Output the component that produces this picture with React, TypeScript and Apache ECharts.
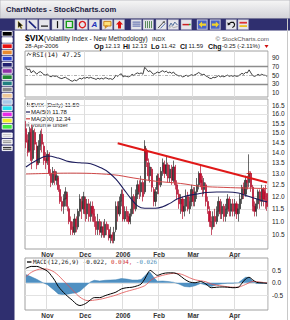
import React, { useEffect, useRef } from "react";
import * as echarts from "echarts";

// ---------- categories ----------
const firstDay = "2005-10-14";
const lastDay = "2006-04-28";
const marketHolidays = ["2005-11-24", "2005-12-26", "2006-01-02", "2006-01-16", "2006-02-20", "2006-04-14"];
const monthNames: Record<string, string> = { "10": "Oct", "11": "Nov", "12": "Dec", "01": "2006", "02": "Feb", "03": "Mar", "04": "Apr" };

function tradingDays(start: string, end: string): string[] {
  const out: string[] = [];
  const d = new Date(start + "T00:00:00Z");
  const e = new Date(end + "T00:00:00Z");
  while (d <= e) {
    const wd = d.getUTCDay();
    const s = d.toISOString().slice(0, 10);
    if (wd !== 0 && wd !== 6 && marketHolidays.indexOf(s) < 0) out.push(s);
    d.setUTCDate(d.getUTCDate() + 1);
  }
  return out;
}
const dates = tradingDays(firstDay, lastDay);
const monthStarts = dates.map((d, i) => (i > 0 && d.slice(5, 7) !== dates[i - 1].slice(5, 7) ? i : -1)).filter((i) => i >= 0);

// ---------- price candles: [open, close, low, high] ----------
const ohlc: number[][] = [
  // Oct
  [15.2, 14.5, 14.2, 15.6], [14.6, 14.0, 13.8, 14.9], [14.1, 15.0, 14.0, 15.3], [15.2, 13.6, 13.2, 15.4], [13.7, 15.1, 13.6, 15.3],
  [15.0, 14.4, 14.1, 15.2], [14.3, 13.4, 13.2, 14.5], [13.5, 14.3, 13.4, 14.6], [14.3, 14.9, 14.1, 15.1], [14.9, 14.4, 14.0, 15.2],
  [14.3, 13.6, 13.4, 14.5], [13.7, 13.5, 13.2, 14.0],
  // Nov
  [13.6, 13.9, 13.4, 14.1], [13.9, 13.0, 12.9, 14.0], [13.0, 12.6, 12.4, 13.2], [12.6, 13.1, 12.5, 13.3], [13.1, 12.7, 12.5, 13.2],
  [12.7, 12.9, 12.5, 13.1], [12.8, 12.3, 12.2, 12.9], [12.3, 11.8, 11.7, 12.5], [11.8, 11.6, 11.4, 12.0], [11.6, 11.9, 11.3, 12.1],
  [11.9, 12.2, 11.6, 12.4], [12.1, 11.6, 11.4, 12.2], [11.5, 11.0, 10.9, 11.6], [11.0, 10.7, 10.5, 11.2], [10.8, 10.6, 10.5, 11.0],
  [10.6, 11.1, 10.5, 11.3], [11.1, 10.8, 10.6, 11.2], [10.8, 11.4, 10.7, 11.5], [11.4, 11.9, 11.2, 12.1], [11.8, 11.5, 11.1, 12.0],
  [11.5, 12.0, 11.3, 12.2],
  // Dec
  [11.9, 11.3, 11.0, 12.0], [11.3, 11.7, 11.1, 11.9], [11.7, 11.2, 11.0, 11.9], [11.2, 11.6, 11.0, 11.8], [11.6, 11.3, 11.0, 11.8],
  [11.3, 11.0, 10.8, 11.5], [11.0, 10.7, 10.5, 11.2], [10.7, 11.0, 10.5, 11.3], [11.0, 10.6, 10.5, 11.1], [10.6, 10.8, 10.4, 11.0],
  [10.8, 10.5, 10.4, 11.0], [10.5, 10.9, 10.4, 11.1], [10.9, 10.7, 10.5, 11.0], [10.7, 10.4, 10.3, 10.9], [10.4, 10.5, 10.2, 10.8],
  [10.5, 10.3, 10.2, 10.6], [10.3, 10.6, 10.2, 10.8], [10.7, 11.6, 10.6, 11.8], [11.6, 11.3, 11.0, 11.8], [11.3, 11.8, 11.2, 12.0],
  [11.8, 12.1, 11.6, 12.3],
  // Jan
  [12.1, 11.1, 11.0, 12.3], [11.1, 11.4, 11.0, 11.6], [11.4, 11.2, 11.0, 11.6], [11.2, 11.0, 10.9, 11.4], [11.0, 11.3, 10.9, 11.5],
  [11.3, 12.0, 11.2, 12.4], [12.0, 11.5, 11.3, 12.1], [11.5, 12.1, 11.4, 12.3], [12.1, 12.5, 11.9, 12.7], [12.5, 12.2, 11.9, 12.7],
  [12.2, 12.6, 12.0, 12.9], [12.6, 12.0, 11.8, 12.7], [12.2, 14.3, 12.1, 14.6], [14.1, 13.6, 13.3, 14.2], [13.5, 12.9, 12.7, 13.7],
  [12.9, 13.3, 12.6, 13.5], [13.2, 12.4, 12.2, 13.3], [12.3, 11.8, 11.6, 12.4], [11.8, 12.2, 11.6, 12.4], [12.3, 12.9, 12.1, 13.0],
  // Feb
  [12.8, 12.5, 12.1, 13.0], [12.5, 13.1, 12.4, 13.3], [13.1, 13.5, 12.9, 13.7], [13.4, 13.0, 12.8, 13.6], [13.0, 13.4, 12.9, 13.8],
  [13.4, 12.8, 12.6, 13.5], [12.8, 13.2, 12.6, 13.4], [13.2, 12.7, 12.5, 13.4], [12.7, 13.3, 12.6, 13.6], [13.3, 12.5, 12.3, 13.4],
  [12.5, 12.1, 11.9, 12.7], [12.1, 11.7, 11.5, 12.3], [11.7, 11.9, 11.3, 12.1], [11.9, 11.4, 11.1, 12.0], [11.4, 11.6, 11.2, 11.9],
  [11.6, 12.0, 11.4, 12.3], [12.0, 11.5, 11.4, 12.2], [11.5, 11.8, 11.3, 12.0], [11.8, 12.3, 11.6, 12.5],
  // Mar
  [12.2, 11.8, 11.6, 12.4], [11.8, 12.2, 11.6, 12.4], [12.2, 12.5, 11.9, 12.8], [12.5, 13.0, 12.3, 13.1], [13.0, 12.6, 12.4, 13.4],
  [12.7, 12.3, 12.0, 12.9], [12.3, 12.6, 12.1, 12.8], [12.5, 11.8, 11.6, 12.6], [11.8, 11.5, 11.3, 12.0], [11.4, 11.0, 10.8, 11.6],
  [11.0, 10.8, 10.5, 11.2], [10.8, 11.2, 10.7, 11.4], [11.2, 11.0, 10.8, 11.5], [11.0, 11.4, 10.9, 11.6], [11.4, 11.8, 11.2, 12.0],
  [11.8, 11.3, 11.1, 11.9], [11.3, 11.6, 11.1, 11.8], [11.6, 11.2, 11.0, 11.7], [11.2, 11.5, 11.0, 11.7], [11.5, 11.9, 11.3, 12.1],
  [11.9, 11.4, 11.2, 12.0], [11.4, 11.7, 11.2, 11.9], [11.7, 11.4, 11.2, 11.9],
  // Apr
  [11.4, 11.7, 11.2, 11.9], [11.7, 11.3, 11.1, 11.8], [11.3, 11.5, 11.0, 11.7], [11.5, 11.9, 11.3, 12.1], [11.9, 12.4, 11.7, 12.5],
  [12.4, 12.1, 11.9, 12.6], [12.1, 12.7, 12.0, 12.9], [12.7, 12.6, 12.3, 12.9], [12.6, 13.0, 12.4, 13.9], [13.0, 12.4, 12.2, 13.1],
  [12.4, 11.6, 11.4, 12.5], [11.6, 11.4, 11.2, 11.8], [11.4, 11.7, 11.2, 11.9], [11.7, 12.2, 11.5, 12.3], [12.2, 11.8, 11.5, 12.3],
  [11.8, 12.3, 11.6, 12.5], [12.3, 11.9, 11.6, 12.4], [12.2, 11.84, 11.5, 12.5], [12.13, 11.59, 11.42, 12.13],
];

// moving averages as [day index, value]
const ma50Points: number[][] = [
  [0, 13.3], [6, 13.62], [12, 13.82], [18, 13.72], [24, 13.55], [30, 13.5], [36, 13.45], [42, 13.25], [46, 13.05],
  [50, 12.75], [54, 12.35], [58, 11.95], [62, 11.62], [66, 11.52], [72, 11.52], [76, 11.58], [80, 11.72], [84, 11.9],
  [88, 12.0], [92, 12.07], [96, 12.12], [100, 12.17], [106, 12.19], [112, 12.19], [118, 12.15], [122, 12.05],
  [126, 11.95], [130, 11.86], [134, 11.78],
];
const ma200Points: number[][] = [
  [0, 12.98], [25, 13.02], [48, 12.95], [60, 12.8], [72, 12.66], [86, 12.56], [97, 12.44], [110, 12.39], [123, 12.36], [134, 12.34],
];
const trendLine: number[][] = [[51, 14.45], [134, 12.6]];
const trendHandles: number[][] = [[66, 14.1], [124, 13.0]];

// RSI(14), one per day
const rsi: number[] = [
  68, 62, 64, 55, 60, 57, 52, 56, 58, 55, 51, 50,
  52, 48, 46, 49, 47, 48, 45, 43, 42, 44, 45, 42, 40, 37, 36, 39, 37, 40, 43, 41, 44,
  43, 45, 43, 45, 43, 42, 40, 43, 41, 43, 41, 44, 43, 41, 42, 40, 43, 50, 47, 51, 53,
  46, 48, 47, 46, 48, 52, 49, 53, 55, 53, 55, 52, 68, 63, 58, 60, 55, 52, 54, 57,
  55, 58, 60, 57, 59, 55, 57, 54, 57, 52, 50, 48, 49, 46, 47, 50, 47, 49, 51,
  49, 51, 53, 56, 53, 51, 52, 48, 46, 43, 42, 45, 44, 46, 49, 46, 48, 46, 48, 50, 47, 49, 47,
  49, 47, 48, 51, 54, 52, 56, 55, 62, 55, 49, 47, 49, 52, 49, 52, 50, 49.5, 47.25,
];

// MACD(12,26,9) as [day index, value]
const macdLine: number[][] = [
  [0, 0.58], [3, 0.66], [6, 0.66], [9, 0.58], [12, 0.47], [14, 0.3], [16, 0.1], [18, -0.15], [20, -0.32], [22, -0.47],
  [24, -0.6], [26, -0.72], [28, -0.86], [30, -0.92], [32, -0.88], [34, -0.8], [36, -0.68], [38, -0.6], [41, -0.6],
  [44, -0.52], [47, -0.45], [50, -0.38], [53, -0.25], [56, -0.2], [59, -0.18], [62, -0.12], [64, -0.05], [66, 0.15],
  [68, 0.42], [69, 0.5], [71, 0.4], [73, 0.3], [76, 0.37], [79, 0.4], [82, 0.4], [85, 0.32], [88, 0.15], [91, 0.03],
  [94, 0.0], [97, 0.05], [100, -0.05], [103, -0.2], [106, -0.18], [109, -0.17], [112, -0.18], [115, -0.2], [118, -0.18],
  [120, -0.02], [122, 0.15], [124, 0.22], [126, 0.12], [128, 0.02], [130, 0.0], [132, -0.01], [134, -0.022],
];
const signalLine: number[][] = [
  [0, 0.25], [3, 0.42], [6, 0.52], [9, 0.56], [12, 0.55], [14, 0.5], [16, 0.42], [18, 0.3], [20, 0.15], [22, 0.0],
  [24, -0.15], [26, -0.3], [28, -0.45], [30, -0.58], [32, -0.67], [34, -0.72], [36, -0.72], [38, -0.7], [41, -0.67],
  [44, -0.62], [47, -0.56], [50, -0.5], [53, -0.42], [56, -0.35], [59, -0.29], [62, -0.23], [64, -0.18], [66, -0.12],
  [68, 0.0], [69, 0.08], [71, 0.18], [73, 0.24], [76, 0.3], [79, 0.35], [82, 0.38], [85, 0.37], [88, 0.3], [91, 0.2],
  [94, 0.12], [97, 0.08], [100, 0.04], [103, -0.05], [106, -0.1], [109, -0.13], [112, -0.16], [115, -0.18], [118, -0.18],
  [120, -0.13], [122, -0.07], [124, 0.0], [126, 0.05], [128, 0.05], [130, 0.03], [132, 0.01], [134, 0.004],
];
const macdHist: number[][] = [
  [0, 0.33], [3, 0.24], [6, 0.14], [9, 0.02], [12, -0.08], [14, -0.2], [16, -0.32], [18, -0.45], [20, -0.47], [22, -0.47],
  [24, -0.45], [26, -0.42], [28, -0.41], [30, -0.34], [32, -0.21], [34, -0.08], [36, 0.04], [38, 0.1], [41, 0.07],
  [44, 0.1], [47, 0.11], [50, 0.12], [53, 0.17], [56, 0.15], [59, 0.11], [62, 0.11], [64, 0.13], [66, 0.27],
  [68, 0.42], [69, 0.42], [71, 0.22], [73, 0.06], [76, 0.07], [79, 0.05], [82, 0.02], [85, -0.05], [88, -0.15], [91, -0.17],
  [94, -0.12], [97, -0.03], [100, -0.09], [103, -0.15], [106, -0.08], [109, -0.04], [112, -0.02], [115, -0.02], [118, 0.0],
  [120, 0.11], [122, 0.22], [124, 0.22], [126, 0.07], [128, -0.03], [130, -0.03], [132, -0.02], [134, -0.026],
];

// ticks
const priceTicks = [10.5, 11, 11.5, 12, 12.5, 13, 13.5, 14, 14.5, 15, 15.5, 16, 16.5];
const rsiTicks = [10, 30, 50, 70, 90];
const macdTicks = [-0.5, 0, 0.5];

// header texts
const ticker = "$VIX";
const tickerName = "(Volatility Index - New Methodology)";
const exchange = "INDX";
const quoteDate = "28-Apr-2006";
const quote = { Op: "12.13", Hi: "12.13", Lo: "11.42", Cl: "11.59" };
const change = "-0.25 (-2.11%)";
const legendTexts = ["$VIX (Daily) 11.59", "MA(50) 11.78", "MA(200) 12.34", "Volume undef"];
const rsiLabel = "RSI(14) 47.25";
const macdLabel = ["MACD(12,26,9) -0.022,", " 0.004,", " -0.026"];

const FONT = "'Liberation Sans', Arial, sans-serif";
const MONO = "'DejaVu Sans Mono', monospace";
const NAVY = "#2f2f6f";

function txt(x: number, y: number, text: string, st: any = {}) {
  return {
    type: "text", x, y, silent: true,
    style: { text, fontSize: 6, fontFamily: FONT, fill: "#222", verticalAlign: "middle", align: "left", ...st },
  };
}

function buttonIcon(k: number): any[] {
  switch (k) {
    case 0: return [{ type: "polygon", shape: { points: [[3, 1.5], [3, 8.5], [4.6, 7], [6, 9.2], [7.2, 8.6], [5.8, 6.4], [8, 6.2]] }, style: { fill: "#111", stroke: "#e8d040", lineWidth: 0.4 } }];
    case 1: return [{ type: "line", shape: { x1: 1.8, y1: 1.5, x2: 9, y2: 8.5 }, style: { stroke: "#1a237e", lineWidth: 1.6 } }];
    case 2: return [{ type: "line", shape: { x1: 2, y1: 6.5, x2: 9, y2: 6.5 }, style: { stroke: "#111", lineWidth: 1.2 } }];
    case 3: return [{ type: "line", shape: { x1: 5.5, y1: 1.5, x2: 5.5, y2: 8.5 }, style: { stroke: "#111", lineWidth: 1.2 } }];
    case 4: return [{ type: "rect", shape: { x: 2.3, y: 1.8, width: 6.2, height: 6.2 }, style: { fill: "none", stroke: "#159a15", lineWidth: 1.4 } }];
    case 5: return [{ type: "circle", shape: { cx: 5.4, cy: 5, r: 3.1 }, style: { fill: "none", stroke: "#dd2020", lineWidth: 1.3 } }];
    case 6: return [{ type: "text", x: 5.3, y: 5.2, style: { text: "A", fontSize: 8, fontWeight: "bold", fontStyle: "italic", fontFamily: FONT, fill: "#2233bb", align: "center", verticalAlign: "middle" } }];
    case 7: return [
      { type: "rect", shape: { x: 1.8, y: 1.8, width: 7.2, height: 4.6 }, style: { fill: "#ffe27a", stroke: "#c07000", lineWidth: 0.8 } },
      { type: "polygon", shape: { points: [[3.5, 6.4], [3.2, 8.8], [5.5, 6.4]] }, style: { fill: "#ffe27a", stroke: "#c07000", lineWidth: 0.8 } }];
    case 8: return [{ type: "polygon", shape: { points: [[5.5, 1.2], [9, 4.8], [7, 4.8], [7, 8.8], [4, 8.8], [4, 4.8], [2, 4.8]] }, style: { fill: "#e01010" } }];
    case 9: return [2.5, 4.5, 6.5].map((y) => ({ type: "line", shape: { x1: 1.5, y1: y, x2: 9.5, y2: y }, style: { stroke: "#5060a8", lineWidth: 1 } }));
    case 10: return [2.5, 4.5, 6.5, 8.5].map((x) => ({ type: "line", shape: { x1: x, y1: 1.5, x2: x, y2: 8.5 }, style: { stroke: "#5a8a5a", lineWidth: 1 } }));
    case 11: return [
      { type: "line", shape: { x1: 2, y1: 8.5, x2: 8, y2: 2 }, style: { stroke: "#444", lineWidth: 0.9 } },
      { type: "line", shape: { x1: 4.5, y1: 8.8, x2: 9.3, y2: 3.8 }, style: { stroke: "#4060b0", lineWidth: 0.9 } },
      { type: "polygon", shape: { points: [[8.6, 1.4], [8.8, 4], [6.4, 2.4]] }, style: { fill: "#444" } }];
    case 12: return [
      { type: "polyline", shape: { points: [[1.2, 7], [3, 3.5], [4.8, 6], [6.8, 2.5], [9.5, 5.5]] }, style: { stroke: "#4d6c99", lineWidth: 1, fill: "none" } },
      { type: "polyline", shape: { points: [[1.2, 8.5], [3.5, 6.5], [5.5, 8], [9.5, 7]] }, style: { stroke: "#999", lineWidth: 0.8, fill: "none" } }];
    case 13: return [
      { type: "line", shape: { x1: 1.5, y1: 5, x2: 8, y2: 5 }, style: { stroke: "#cc2222", lineWidth: 1.5 } },
      { type: "line", shape: { x1: 8, y1: 5, x2: 9.6, y2: 5 }, style: { stroke: "#22aa22", lineWidth: 1.5 } }];
    case 14: return [
      { type: "rect", shape: { x: 0.8, y: 0.8, width: 8.9, height: 8.4 }, style: { fill: "#4a64c8" } },
      { type: "polygon", shape: { points: [[1.8, 5], [5, 1.8], [5, 3.8], [9, 3.8], [9, 6.2], [5, 6.2], [5, 8.2]] }, style: { fill: "#f2d22a" } }];
    case 15: return [
      { type: "rect", shape: { x: 0.8, y: 0.8, width: 8.9, height: 8.4 }, style: { fill: "#4a64c8" } },
      { type: "polygon", shape: { points: [[9, 5], [5.8, 1.8], [5.8, 3.8], [1.8, 3.8], [1.8, 6.2], [5.8, 6.2], [5.8, 8.2]] }, style: { fill: "#f2d22a" } }];
    case 16: return [
      { type: "polyline", shape: { points: [[3, 4.2], [5, 2.6], [7.4, 2.8], [8.6, 4.6], [8.2, 6.6], [6.4, 8]] }, style: { stroke: "#111", lineWidth: 1.1, fill: "none" } },
      { type: "polygon", shape: { points: [[1.4, 2.6], [1.8, 6], [4.6, 4.6]] }, style: { fill: "#111" } }];
    default: return [
      { type: "rect", shape: { x: 1.5, y: 2.2, width: 7.5, height: 1.8 }, style: { fill: "#dd3333" } },
      { type: "rect", shape: { x: 1.5, y: 5.6, width: 7.5, height: 1.8 }, style: { fill: "#e8c020" } }];
  }
}

const toolbarXs = [15, 27, 39, 52, 64, 77, 89, 102, 114, 131, 143, 156, 168, 181, 197, 210, 226, 238];
const swatchColors = ["#000000", "#ffffff", "#e81010", "#e88a30", "#2840d0", "#202070", "#9030a8", "#208a30", "#208080",
  "#8a8a8a", "#f0c898", "#a8c8e8", "#28e0f0", "#e828e8", "#f0f028", "#40e840"];

function buildGraphics(): any[] {
  const els: any[] = [];
  els.push({ type: "rect", z: -10, silent: true, shape: { x: 0, y: 0, width: 290, height: 320 }, style: { fill: "#ffffff" } });
  // title bar
  els.push({ type: "rect", silent: true, shape: { x: 0, y: 0, width: 290, height: 18.5 },
    style: { fill: { type: "linear", x: 0, y: 0, x2: 0, y2: 1, colorStops: [{ offset: 0, color: "#f6f6f6" }, { offset: 1, color: "#d2d2d8" }] }, stroke: "#b0b0b8", lineWidth: 0.8 } });
  els.push(txt(6, 9, "ChartNotes - StockCharts.com", { fontSize: 7.6, fontWeight: "bold", fill: "#1c1c44" }));
  // toolbar
  els.push({ type: "rect", silent: true, shape: { x: 0, y: 18.5, width: 290, height: 12 }, style: { fill: NAVY } });
  toolbarXs.forEach((bx, k) => {
    els.push({ type: "group", x: bx, y: 19.6, silent: true, children: [
      { type: "rect", shape: { x: 0, y: 0, width: 10.5, height: 10 }, style: { fill: "#e6e6ea", stroke: "#9a9ab8", lineWidth: 0.5 } },
      ...buttonIcon(k),
    ] });
  });
  // left strip
  els.push({ type: "rect", silent: true, shape: { x: 0, y: 30.5, width: 14.5, height: 290 }, style: { fill: NAVY } });
  swatchColors.forEach((c, k) => {
    els.push({ type: "rect", silent: true, shape: { x: 2.2, y: 31.5 + k * 6.2, width: 10, height: 4.6 }, style: { fill: c, stroke: "#ffffff", lineWidth: 0.9 } });
  });
  [{ c: "#ffffff", y: 133 }, { c: "#777777", y: 139.5 }, { c: "#000000", y: 146 }].forEach((s) => {
    els.push({ type: "rect", silent: true, shape: { x: 2.2, y: s.y, width: 10, height: 4.6 }, style: { fill: "#ffffff", stroke: "#ffffff", lineWidth: 0.9 } });
    els.push({ type: "line", silent: true, shape: { x1: 3, y1: s.y + 1.4, x2: 11.4, y2: s.y + 1.4 }, style: { stroke: s.c === "#ffffff" ? "#bbbbbb" : s.c, lineWidth: 0.9 } });
    els.push({ type: "line", silent: true, shape: { x1: 3, y1: s.y + 3.2, x2: 11.4, y2: s.y + 3.2 }, style: { stroke: s.c === "#ffffff" ? "#bbbbbb" : s.c, lineWidth: 0.9 } });
  });
  els.push({ type: "line", silent: true, shape: { x1: 287.5, y1: 18.5, x2: 287.5, y2: 320 }, style: { stroke: "#c8c8c8", lineWidth: 1 } });

  // header
  els.push(txt(25, 38.2, ticker, { fontSize: 8.6, fontWeight: "bold", fill: "#000" }));
  els.push(txt(44, 38.6, tickerName, { fontSize: 6.5, fill: "#222" }));
  els.push(txt(152, 38.8, exchange, { fontSize: 5.5, fill: "#222" }));
  els.push(txt(269, 38.6, "\u00a9 StockCharts.com", { fontSize: 6.2, fill: "#555", align: "right" }));
  els.push(txt(25, 46.2, quoteDate, { fontSize: 6, fill: "#222" }));
  const qx: Record<string, number[]> = { Op: [94, 105], Hi: [123, 132], Lo: [151, 161], Cl: [180, 188.5] };
  Object.keys(quote).forEach((k) => {
    els.push(txt(qx[k][0], 46.2, k, { fontSize: 7, fontWeight: "bold", fill: "#111" }));
    els.push(txt(qx[k][1], 46.4, (quote as any)[k], { fontSize: 6, fill: "#222" }));
  });
  els.push(txt(208, 46.2, "Chg", { fontSize: 7, fontWeight: "bold", fill: "#111" }));
  els.push(txt(222, 46.4, change, { fontSize: 6, fill: "#222" }));
  els.push({ type: "polygon", silent: true, shape: { points: [[264.5, 45], [268.5, 45], [266.5, 48]] }, style: { fill: "#d01010" } });

  // RSI label
  els.push({ type: "polyline", silent: true, shape: { points: [[27, 56], [28.5, 52.8], [30, 55.2], [31.2, 53.5]] }, style: { stroke: "#333", lineWidth: 0.7, fill: "none" } });
  els.push(txt(32.5, 54.5, rsiLabel, { fontSize: 6.2, fontFamily: MONO, fill: "#111" }));

  // main legend
  els.push({ type: "rect", silent: true, shape: { x: 27, y: 102.5, width: 1, height: 4 }, style: { fill: "#444" } });
  els.push({ type: "rect", silent: true, shape: { x: 28.6, y: 103.5, width: 1, height: 3 }, style: { fill: "#444" } });
  els.push(txt(31, 105, legendTexts[0], { fill: "#111" }));
  els.push({ type: "line", silent: true, shape: { x1: 26, y1: 112, x2: 30, y2: 112 }, style: { stroke: "#1c1c5c", lineWidth: 1.2 } });
  els.push(txt(31, 112, legendTexts[1], { fill: "#111" }));
  els.push({ type: "line", silent: true, shape: { x1: 26, y1: 118.8, x2: 30, y2: 118.8 }, style: { stroke: "#d04040", lineWidth: 1.2 } });
  els.push(txt(31, 118.8, legendTexts[2], { fill: "#111" }));
  els.push({ type: "rect", silent: true, shape: { x: 26.5, y: 123.5, width: 1, height: 3 }, style: { fill: "#777" } });
  els.push({ type: "rect", silent: true, shape: { x: 28.2, y: 122.5, width: 1, height: 4 }, style: { fill: "#777" } });
  els.push(txt(31, 125.2, legendTexts[3], { fill: "#333" }));

  // MACD label
  els.push({ type: "line", silent: true, shape: { x1: 27, y1: 262, x2: 31.5, y2: 262 }, style: { stroke: "#000", lineWidth: 1.3 } });
  els.push({
    type: "text", x: 33, y: 262, silent: true,
    style: {
      text: "{a|" + macdLabel[0] + "}{b|" + macdLabel[1] + "}{c|" + macdLabel[2] + "}",
      fontSize: 5.9, fontFamily: MONO, verticalAlign: "middle",
      rich: { a: { fill: "#111", fontSize: 5.9, fontFamily: MONO }, b: { fill: "#d03030", fontSize: 5.9, fontFamily: MONO }, c: { fill: "#5090b8", fontSize: 5.9, fontFamily: MONO } },
    },
  });
  return els;
}

function buildOption(): any {
  const isMonthStart = (i: number) => monthStarts.indexOf(i) >= 0;
  const gridBase = { left: 25, width: 243, show: true, borderColor: "#a0a0a0", borderWidth: 1, backgroundColor: "#ffffff" };
  const xAxisFor = (gridIndex: number, showLabel: boolean) => ({
    type: "category", gridIndex, data: dates, boundaryGap: true,
    axisLine: { show: false }, axisTick: { show: false },
    axisLabel: {
      show: showLabel, interval: (i: number) => isMonthStart(i),
      formatter: (v: string) => monthNames[v.slice(5, 7)] || "",
      fontSize: 6.5, fontWeight: "bold", fontFamily: FONT, color: "#333", margin: 1.5,
    },
    splitLine: { show: true, interval: (i: number) => isMonthStart(i), lineStyle: { color: "#dedede", width: 1 } },
  });
  const yLabel = { fontSize: 6.5, fontFamily: FONT, color: "#222", margin: 4 };
  return {
    animation: false,
    backgroundColor: "#ffffff",
    graphic: { elements: buildGraphics() },
    grid: [
      { ...gridBase, top: 51, height: 46 },
      { ...gridBase, top: 99, height: 150 },
      { ...gridBase, top: 258, height: 52 },
    ],
    xAxis: [xAxisFor(0, false), xAxisFor(1, true), xAxisFor(2, true)],
    yAxis: [
      { gridIndex: 0, type: "value", min: 0, max: 105, position: "right",
        axisLine: { show: false }, axisTick: { show: false, customValues: rsiTicks },
        axisLabel: { ...yLabel, customValues: rsiTicks }, splitLine: { show: false } },
      { gridIndex: 1, type: "log", logBase: 10, min: 10, max: 16.85, position: "right",
        axisLine: { show: false }, axisTick: { show: false, customValues: priceTicks },
        axisLabel: { ...yLabel, customValues: priceTicks, formatter: (v: number) => v.toFixed(1) },
        splitLine: { show: true, lineStyle: { color: "#e2e2e2", width: 1 } } },
      { gridIndex: 2, type: "value", min: -1.1, max: 1.0, position: "right",
        axisLine: { show: false }, axisTick: { show: false, customValues: macdTicks },
        axisLabel: { ...yLabel, customValues: macdTicks, formatter: (v: number) => v.toFixed(1) },
        splitLine: { show: true, lineStyle: { color: "#e2e2e2", width: 1 } } },
    ],
    series: [
      {
        type: "line", xAxisIndex: 0, yAxisIndex: 0, data: rsi, showSymbol: false,
        lineStyle: { color: "#2a2a2a", width: 0.9 },
        markLine: {
          silent: true, symbol: "none", label: { show: false },
          data: [
            { yAxis: 70, lineStyle: { color: "#8c8c8c", width: 1.3, type: "solid" } },
            { yAxis: 30, lineStyle: { color: "#8c8c8c", width: 1.3, type: "solid" } },
            { yAxis: 50, lineStyle: { color: "#999", width: 0.8, type: [3, 1.5, 1, 1.5] } },
          ],
        },
      },
      {
        type: "candlestick", xAxisIndex: 1, yAxisIndex: 1, data: ohlc, barWidth: "95%",
        itemStyle: { color: "#484848", color0: "#c80f34", borderColor: "#2a2a2a", borderColor0: "#b00a2a", borderWidth: 0.7 },
      },
      { type: "line", xAxisIndex: 1, yAxisIndex: 1, data: ma200Points, showSymbol: false, smooth: 0.4, lineStyle: { color: "#d04848", width: 1 } },
      { type: "line", xAxisIndex: 1, yAxisIndex: 1, data: ma50Points, showSymbol: false, smooth: 0.4, lineStyle: { color: "#1c1c5c", width: 1.1 } },
      { type: "line", xAxisIndex: 1, yAxisIndex: 1, data: trendLine, showSymbol: false, lineStyle: { color: "#e01818", width: 2 } },
      { type: "scatter", xAxisIndex: 1, yAxisIndex: 1, data: trendHandles, symbol: "path://M4,0h2v4h4v2h-4v4h-2v-4h-4v-2h4z", symbolSize: 5, itemStyle: { color: "#c81010" } },
      { type: "line", xAxisIndex: 2, yAxisIndex: 2, data: macdHist, showSymbol: false, lineStyle: { color: "#3f80b2", width: 0.5 }, areaStyle: { color: "#4f90c2", opacity: 1 } },
      { type: "line", xAxisIndex: 2, yAxisIndex: 2, data: signalLine, showSymbol: false, smooth: 0.3, lineStyle: { color: "#e05050", width: 0.8 } },
      { type: "line", xAxisIndex: 2, yAxisIndex: 2, data: macdLine, showSymbol: false, smooth: 0.3, lineStyle: { color: "#000", width: 1 } },
    ],
  };
}

export default function App() {
  const ref = useRef<HTMLDivElement>(null);
  useEffect(() => {
    if (!ref.current) return;
    const chart = echarts.init(ref.current, undefined, { renderer: "svg" });
    chart.setOption(buildOption());
    return () => chart.dispose();
  }, []);
  return <div ref={ref} style={{ position: "fixed", left: 0, top: 0, width: 290, height: 320 }} />;
}
